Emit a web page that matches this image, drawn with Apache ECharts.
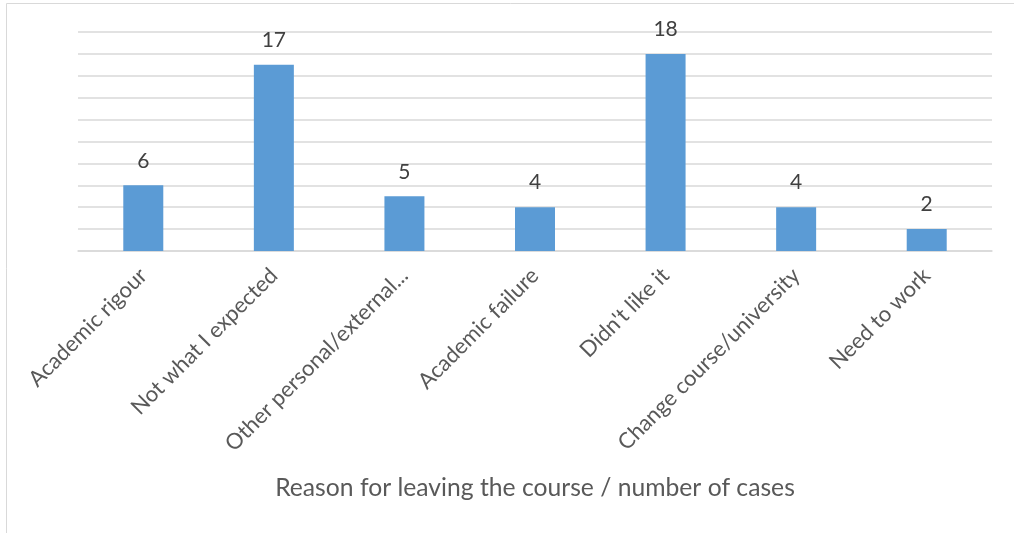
<!DOCTYPE html>
<html><head><meta charset="utf-8">
<script src="https://cdn.jsdelivr.net/npm/echarts@6/dist/echarts.min.js"></script>
<style>html,body{margin:0;padding:0;background:#fff}#c{width:1014px;height:533px}</style>
</head><body><div id="c"></div>
<script>
const categories = ['Academic rigour','Not what I expected','Other personal/external...','Academic failure',"Didn't like it",'Change course/university','Need to work'];
const cases = [6,17,5,4,18,4,2];
const axisTitle = 'Reason for leaving the course / number of cases';
const chart = echarts.init(document.getElementById('c'));
const F = 'Lato, "Open Sans", sans-serif';
chart.setOption({
  animation:false,
  graphic:[{type:'rect',shape:{x:6.5,y:3.5,width:1100,height:600},style:{fill:'none',stroke:'#d9d9d9',lineWidth:1}}],
  grid:{left:78,right:22,top:32,bottom:282},
  xAxis:{type:'category',data:categories,
    axisLine:{lineStyle:{color:'#d9d9d9',width:1.5}},axisTick:{show:false},
    axisLabel:{rotate:45,interval:0,color:'#595959',fontSize:22,fontFamily:F,margin:21},
    name:axisTitle,nameLocation:'middle',nameGap:237,
    nameTextStyle:{color:'#595959',fontSize:24.7,fontFamily:F,verticalAlign:'middle'}},
  yAxis:{type:'value',min:0,max:20,interval:2,axisLabel:{show:false},axisLine:{show:false},axisTick:{show:false},
    splitLine:{lineStyle:{color:'#d9d9d9',width:1.5}}},
  series:[{type:'bar',data:cases,barWidth:40,itemStyle:{color:'#5b9bd5'},
    label:{show:true,position:'top',distance:14,color:'#404040',fontSize:21,fontFamily:F}}]
});
</script></body></html>
